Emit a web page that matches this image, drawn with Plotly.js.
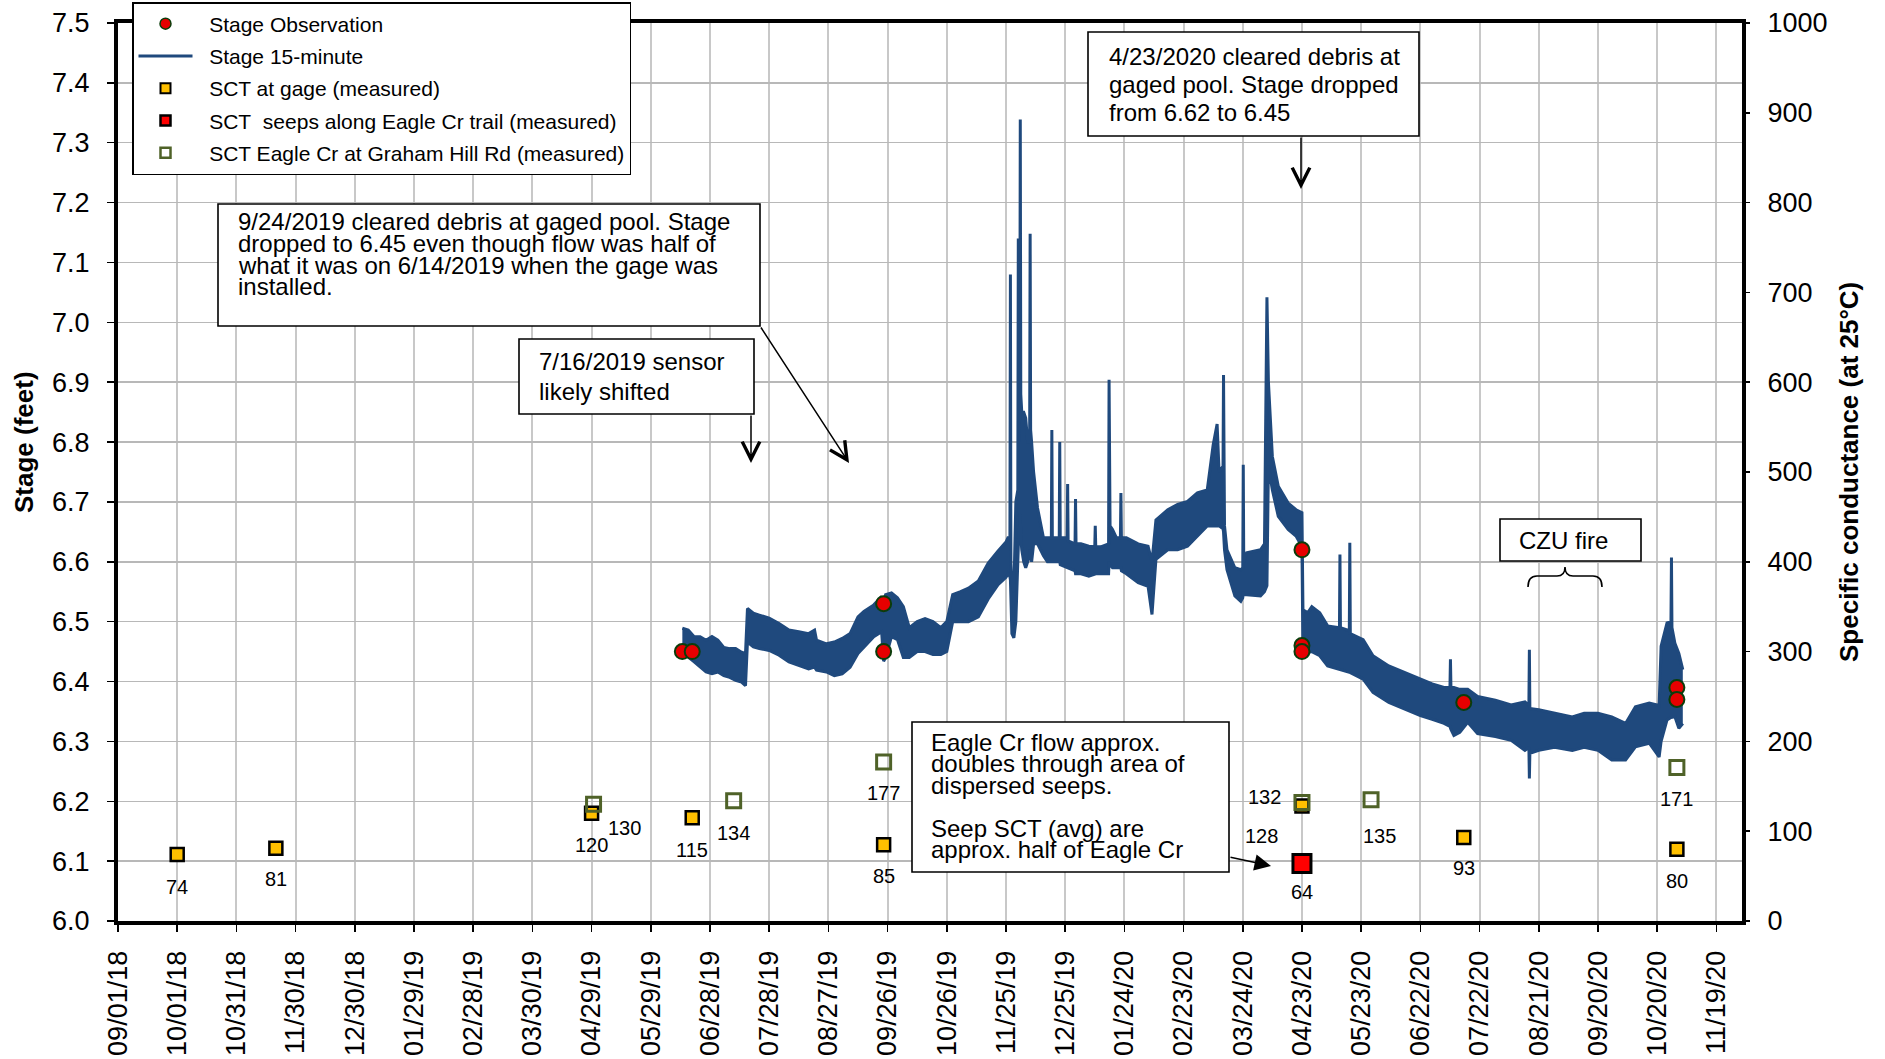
<!DOCTYPE html>
<html><head><meta charset="utf-8">
<script src="https://cdn.plot.ly/plotly-3.0.1.min.js"></script>
<style>html,body{margin:0;padding:0;background:#fff;}#chart{width:1885px;height:1059px;}</style>
</head><body><div id="chart"></div>
<script>
// ---------------- DATA ----------------
// 15-minute stage record, drawn as its upper and lower envelope (feet)
const stageDates = [
 '2019-06-14','2019-06-17','2019-06-20','2019-06-23','2019-06-26','2019-06-29','2019-07-02','2019-07-05','2019-07-08','2019-07-11','2019-07-14','2019-07-16',
 '2019-07-17','2019-07-20','2019-07-23','2019-07-28','2019-08-02','2019-08-07','2019-08-12','2019-08-17','2019-08-20','2019-08-21','2019-08-26','2019-08-30',
 '2019-09-03','2019-09-07','2019-09-11','2019-09-14','2019-09-19','2019-09-23','2019-09-24','2019-09-25','2019-09-28','2019-10-01','2019-10-04','2019-10-07',
 '2019-10-11','2019-10-15','2019-10-19','2019-10-23','2019-10-26','2019-10-29','2019-11-02','2019-11-06','2019-11-11','2019-11-16','2019-11-21','2019-11-25',
 '2019-11-26','2019-11-27 00:00','2019-11-27 06:00','2019-11-27 12:00','2019-11-28','2019-11-29','2019-11-30','2019-12-01 00:00','2019-12-01 06:00','2019-12-01 12:00','2019-12-02 00:00','2019-12-02 06:00',
 '2019-12-02 12:00','2019-12-03','2019-12-04','2019-12-05','2019-12-06','2019-12-07 00:00','2019-12-07 06:00','2019-12-07 12:00','2019-12-08','2019-12-09','2019-12-11','2019-12-14',
 '2019-12-16','2019-12-18 00:00','2019-12-18 06:00','2019-12-18 12:00','2019-12-22 00:00','2019-12-22 06:00','2019-12-22 12:00','2019-12-26 00:00','2019-12-26 06:00','2019-12-26 12:00','2019-12-30 00:00','2019-12-30 06:00',
 '2019-12-30 12:00','2020-01-02','2020-01-06','2020-01-09 00:00','2020-01-09 06:00','2020-01-09 12:00','2020-01-12','2020-01-16 00:00','2020-01-16 06:00','2020-01-16 18:00','2020-01-18','2020-01-20',
 '2020-01-22 00:00','2020-01-22 06:00','2020-01-22 12:00','2020-01-25','2020-01-31','2020-02-05','2020-02-07','2020-02-09','2020-02-15','2020-02-20','2020-02-25','2020-03-01',
 '2020-03-06','2020-03-09','2020-03-11','2020-03-12','2020-03-14 00:00','2020-03-14 06:00','2020-03-14 18:00','2020-03-16','2020-03-20','2020-03-23','2020-03-24 00:00','2020-03-24 06:00',
 '2020-03-24 12:00','2020-03-26','2020-04-02','2020-04-04','2020-04-05 06:00','2020-04-06','2020-04-08','2020-04-11','2020-04-16','2020-04-20','2020-04-23 00:00','2020-04-23 12:00',
 '2020-04-26','2020-04-28','2020-05-02','2020-05-06','2020-05-12 00:00','2020-05-12 06:00','2020-05-12 12:00','2020-05-17 00:00','2020-05-17 06:00','2020-05-17 12:00','2020-05-24','2020-05-29',
 '2020-06-06','2020-06-14','2020-06-22','2020-06-28','2020-07-04','2020-07-07 00:00','2020-07-07 06:00','2020-07-07 12:00','2020-07-09','2020-07-12','2020-07-16','2020-07-21',
 '2020-07-30','2020-08-07','2020-08-14','2020-08-16 00:00','2020-08-16 06:00','2020-08-16 12:00','2020-08-21','2020-08-29','2020-09-07','2020-09-13','2020-09-20','2020-09-27',
 '2020-10-04','2020-10-09','2020-10-16','2020-10-21','2020-10-22','2020-10-25','2020-10-27 00:00','2020-10-27 06:00','2020-10-27 12:00','2020-10-29','2020-10-31','2020-11-02'
];
const stageHigh = [
 6.489,6.486,6.475,6.475,6.469,6.475,6.469,6.457,6.455,6.455,6.449,6.447,
 6.522,6.514,6.511,6.506,6.497,6.486,6.483,6.480,6.486,6.469,6.463,6.466,
 6.472,6.480,6.508,6.517,6.528,6.542,6.530,6.545,6.548,6.540,6.525,6.490,
 6.500,6.505,6.500,6.490,6.500,6.545,6.550,6.556,6.568,6.598,6.618,6.633,
 6.640,6.640,7.080,6.600,6.560,6.550,6.700,6.720,7.140,6.800,6.850,7.339,
 6.880,6.850,6.850,6.840,6.800,6.800,7.148,6.820,6.800,6.750,6.690,6.640,
 6.640,6.640,6.820,6.640,6.640,6.800,6.640,6.640,6.730,6.635,6.630,6.705,
 6.630,6.630,6.626,6.625,6.660,6.625,6.625,6.630,6.904,6.660,6.654,6.640,
 6.640,6.715,6.640,6.640,6.630,6.626,6.600,6.670,6.687,6.696,6.701,6.715,
 6.720,6.795,6.830,6.750,6.760,6.912,6.660,6.620,6.590,6.587,6.590,6.762,
 6.600,6.615,6.620,6.630,7.042,6.900,6.776,6.726,6.698,6.687,6.682,6.520,
 6.515,6.525,6.515,6.493,6.490,6.612,6.490,6.485,6.632,6.480,6.470,6.443,
 6.426,6.415,6.404,6.396,6.390,6.390,6.437,6.390,6.390,6.387,6.387,6.375,
 6.369,6.361,6.366,6.360,6.453,6.355,6.353,6.347,6.341,6.347,6.347,6.341,
 6.330,6.358,6.364,6.360,6.459,6.498,6.500,6.607,6.490,6.464,6.447,6.420
];
const stageLow = [
 6.445,6.441,6.433,6.424,6.416,6.413,6.416,6.410,6.407,6.402,6.399,6.393,
 6.466,6.458,6.455,6.452,6.444,6.433,6.427,6.421,6.424,6.419,6.416,6.410,
 6.413,6.424,6.447,6.458,6.475,6.483,6.434,6.440,6.475,6.470,6.440,6.440,
 6.450,6.450,6.445,6.445,6.450,6.500,6.500,6.500,6.508,6.538,6.562,6.574,
 6.580,6.575,6.570,6.540,6.480,6.473,6.500,6.600,6.640,6.650,6.660,6.680,
 6.640,6.620,6.600,6.590,6.600,6.610,6.620,6.610,6.600,6.630,6.630,6.610,
 6.600,6.600,6.600,6.600,6.600,6.600,6.595,6.590,6.590,6.590,6.585,6.580,
 6.580,6.580,6.576,6.580,6.580,6.580,6.580,6.580,6.600,6.595,6.590,6.590,
 6.590,6.590,6.585,6.580,6.565,6.559,6.512,6.604,6.620,6.620,6.626,6.643,
 6.660,6.660,6.660,6.660,6.655,6.650,6.620,6.587,6.543,6.534,6.540,6.550,
 6.545,6.545,6.543,6.550,6.560,6.760,6.720,6.676,6.654,6.643,6.625,6.448,
 6.448,6.450,6.443,6.426,6.420,6.420,6.420,6.415,6.415,6.415,6.404,6.382,
 6.365,6.354,6.343,6.337,6.330,6.325,6.320,6.320,6.310,6.315,6.332,6.313,
 6.308,6.302,6.285,6.290,6.238,6.280,6.285,6.290,6.285,6.290,6.285,6.269,
 6.269,6.291,6.297,6.274,6.300,6.336,6.340,6.340,6.340,6.341,6.322,6.330
];
// Stage observations (feet)
const obsDates = ['2019-06-14','2019-06-19','2019-09-24','2019-09-24','2020-04-23','2020-04-23','2020-04-23','2020-07-14','2020-10-30','2020-10-30'];
const obsStage = [6.45,6.45,6.53,6.45,6.62,6.46,6.45,6.365,6.39,6.37];
// Specific conductance (at 25 C)
const gageDates = ['2018-10-01','2018-11-20','2019-04-29','2019-06-19','2019-09-24','2020-04-23','2020-07-14','2020-10-30'];
const gageSCT = [74,81,120,115,85,128,93,80];
const seepDates = ['2020-04-23'];
const seepSCT = [64];
const grahamDates = ['2019-04-30','2019-07-10','2019-09-24','2020-04-23','2020-05-28','2020-10-30'];
const grahamSCT = [130,134,177,132,135,171];
// legend names
const names = ['Stage Observation','Stage 15-minute','SCT at gage (measured)','SCT\u00a0 seeps along Eagle Cr trail (measured)','SCT Eagle Cr at Graham Hill Rd (measured)'];

// ---------------- layout helpers ----------------
const FONT = 'Liberation Sans, Arial, Helvetica, sans-serif';
const W = 1885, H = 1059, L = 118, R = 1742, T = 23, B = 921;
const PX = X => (X - L) / (R - L);
const PY = Y => (B - Y) / (B - T);
const BLUE = '#1F497D', RED = '#E60000', OBSEDGE = '#0B3D0B', YELLOW = '#FFC000', OLIVE = '#4F6228';
const PAD = '\u00a0\u00a0';

// label offsets in pixels [xshift, yshift]
const gageShift = [[0,-32],[0,-31],[0,-32],[0,-32],[0,-31],[-40,-30],[0,-31],[0,-32]];
const seepShift = [[0,-28]];
const grahamShift = [[31,-24],[0,-32],[0,-31],[-37,5],[8,-36],[0,-32]];

const traces = [
  {x: stageDates, y: stageLow, type: 'scatter', mode: 'lines', line: {color: BLUE, width: 3}, showlegend: false, hoverinfo: 'skip'},
  {x: stageDates, y: stageHigh, type: 'scatter', mode: 'lines', fill: 'tonexty', fillcolor: BLUE, line: {color: BLUE, width: 3}, showlegend: false, hoverinfo: 'skip', name: names[1]},
  {x: obsDates, y: obsStage, type: 'scatter', mode: 'markers', name: names[0], showlegend: false,
   marker: {symbol: 'circle', size: 15, color: RED, line: {color: OBSEDGE, width: 2}}},
  {x: gageDates, y: gageSCT, yaxis: 'y2', type: 'scatter', mode: 'markers', name: names[2], showlegend: false,
   marker: {symbol: 'square', size: 13, color: YELLOW, line: {color: '#000', width: 2.5}}},
  {x: seepDates, y: seepSCT, yaxis: 'y2', type: 'scatter', mode: 'markers', name: names[3], showlegend: false,
   marker: {symbol: 'square', size: 18, color: '#FF0000', line: {color: '#000', width: 3}}},
  {x: grahamDates, y: grahamSCT, yaxis: 'y2', type: 'scatter', mode: 'markers', name: names[4], showlegend: false,
   marker: {symbol: 'square-open', size: 14, color: OLIVE, line: {color: OLIVE, width: 3}}},
  // legend entries
  {x: [null], y: [null], type: 'scatter', mode: 'markers', name: PAD + names[0], legendgroup: 'g1', marker: {symbol: 'circle', size: 11, color: RED, line: {color: OBSEDGE, width: 1.5}}},
  {x: [null], y: [null], type: 'scatter', mode: 'lines', name: PAD + names[1], legendgroup: 'g2', line: {color: BLUE, width: 3}},
  {x: [null], y: [null], type: 'scatter', mode: 'markers', name: PAD + names[2], legendgroup: 'g3', marker: {symbol: 'square', size: 10, color: YELLOW, line: {color: '#000', width: 2}}},
  {x: [null], y: [null], type: 'scatter', mode: 'markers', name: PAD + names[3], legendgroup: 'g4', marker: {symbol: 'square', size: 10, color: '#FF0000', line: {color: '#000', width: 2.5}}},
  {x: [null], y: [null], type: 'scatter', mode: 'markers', name: PAD + names[4], legendgroup: 'g5', marker: {symbol: 'square-open', size: 10, color: OLIVE, line: {color: OLIVE, width: 2.5}}}
];

const annotations = [];
function labels(dates, vals, shifts) {
  dates.forEach((d, i) => annotations.push({x: d, y: vals[i], xref: 'x', yref: 'y2', text: String(vals[i]), showarrow: false,
    xshift: shifts[i][0], yshift: shifts[i][1], font: {size: 20, color: '#000'}}));
}
labels(gageDates, gageSCT, gageShift);
labels(seepDates, seepSCT, seepShift);
labels(grahamDates, grahamSCT, grahamShift);

const shapes = [];
function box(x0, y0, x1, y1, textX, lines, lineYs, anchor) {
  shapes.push({type: 'rect', xref: 'paper', yref: 'paper', x0: PX(x0), x1: PX(x1), y0: PY(y1), y1: PY(y0),
    fillcolor: '#fff', line: {color: '#000', width: 1.6}, layer: 'above'});
  lines.forEach((t, i) => { if (t) annotations.push({xref: 'paper', yref: 'paper', x: PX(textX), y: PY(lineYs[i]), text: t,
    showarrow: false, xanchor: anchor || 'left', yanchor: 'middle', font: {size: 24, color: '#000'}}); });
}
function arrow(tx, ty, hx, hy, head, size) {
  annotations.push({xref: 'paper', yref: 'paper', x: PX(hx), y: PY(hy), ax: tx - hx, ay: ty - hy, text: '',
    showarrow: true, arrowhead: head, arrowsize: size, arrowwidth: 1.5, arrowcolor: '#000', standoff: 0, startstandoff: 0});
}
box(218, 204, 760, 326, 236,
  ['9/24/2019 cleared debris at gaged pool. Stage', 'dropped to 6.45 even though flow was half of', 'what it was on 6/14/2019 when the gage was', 'installed.'],
  [222, 244, 265, 286]);
arrow(760, 326, 849, 463, 5, 2.3);
box(519, 339, 754, 414, 537, ['7/16/2019 sensor', 'likely shifted'], [362, 391]);
arrow(751, 414, 751, 463, 5, 2.3);
box(1088, 32, 1419, 136, 1107, ['4/23/2020 cleared debris at', 'gaged pool. Stage dropped', 'from 6.62 to 6.45'], [56, 84, 112]);
arrow(1301, 136, 1301, 189, 5, 2.3);
box(1500, 519, 1641, 561, 1563, ['CZU fire'], [540], 'center');
box(912, 722, 1229, 872, 929,
  ['Eagle Cr flow approx.', 'doubles through area of', 'dispersed seeps.', '', 'Seep SCT (avg) are', 'approx. half of Eagle Cr'],
  [742, 763, 785, 806, 828, 849]);
arrow(1229, 857, 1271, 866, 2, 2.2);
// brace under the CZU fire box
const bp = (X, Y) => PX(X).toFixed(5) + ',' + PY(Y).toFixed(5);
shapes.push({type: 'path', xref: 'paper', yref: 'paper', layer: 'above', line: {color: '#000', width: 1.6},
  path: 'M' + bp(1528, 587) + ' Q' + bp(1528, 576) + ' ' + bp(1537, 576) + ' L' + bp(1557, 576) + ' Q' + bp(1565, 576) + ' ' + bp(1565, 567) +
        ' Q' + bp(1565, 576) + ' ' + bp(1573, 576) + ' L' + bp(1593, 576) + ' Q' + bp(1602, 576) + ' ' + bp(1602, 587)});
// axis titles
annotations.push({xref: 'paper', yref: 'paper', x: PX(24), y: PY(442), text: '<b>Stage (feet)</b>', textangle: -90, showarrow: false,
  xanchor: 'center', yanchor: 'middle', font: {size: 26, color: '#000'}});
annotations.push({xref: 'paper', yref: 'paper', x: PX(1849), y: PY(472), text: '<b>Specific conductance (at 25°C)</b>', textangle: -90, showarrow: false,
  xanchor: 'center', yanchor: 'middle', font: {size: 26, color: '#000'}});

const layout = {
  width: W, height: H,
  margin: {l: L, r: W - R, t: T, b: H - B, pad: 0, autoexpand: false},
  paper_bgcolor: '#fff', plot_bgcolor: '#fff',
  font: {family: FONT, size: 20, color: '#000'},
  showlegend: true,
  legend: {x: PX(132), y: PY(2), xanchor: 'left', yanchor: 'top', bgcolor: '#fff', bordercolor: '#000', borderwidth: 1.5,
    font: {size: 21, color: '#000'}, itemwidth: 54, traceorder: 'grouped', tracegroupgap: 2},
  xaxis: {type: 'date', range: ['2018-09-01', '2020-12-02'], tick0: '2018-09-01', dtick: 30 * 86400000, tickformat: '%m/%d/%y',
    tickangle: -90, ticks: 'outside', ticklen: 7, tickwidth: 1.5, tickcolor: '#000', showgrid: true, gridcolor: '#C8C8C8', gridwidth: 2,
    showline: true, linecolor: '#000', linewidth: 4, mirror: true, zeroline: false, tickfont: {size: 27, color: '#000'}, ticklabelstandoff: 8},
  yaxis: {range: [6, 7.5], tick0: 6, dtick: 0.1, tickformat: '.1f', ticks: 'outside', ticklen: 7, tickwidth: 1.5, tickcolor: '#000',
    showgrid: true, gridcolor: '#B8B8B8', gridwidth: 1.5, showline: true, linecolor: '#000', linewidth: 4, mirror: true, zeroline: false,
    tickfont: {size: 27, color: '#000'}, ticklabelstandoff: 12},
  yaxis2: {overlaying: 'y', side: 'right', range: [0, 1000], tick0: 0, dtick: 100, ticks: 'outside', ticklen: 7, tickwidth: 1.5, tickcolor: '#000',
    showgrid: false, zeroline: false, showline: false, tickfont: {size: 27, color: '#000'}, ticklabelstandoff: 12},
  annotations: annotations,
  shapes: shapes
};

Plotly.newPlot('chart', traces, layout, {displayModeBar: false, staticPlot: true});
</script></body></html>
